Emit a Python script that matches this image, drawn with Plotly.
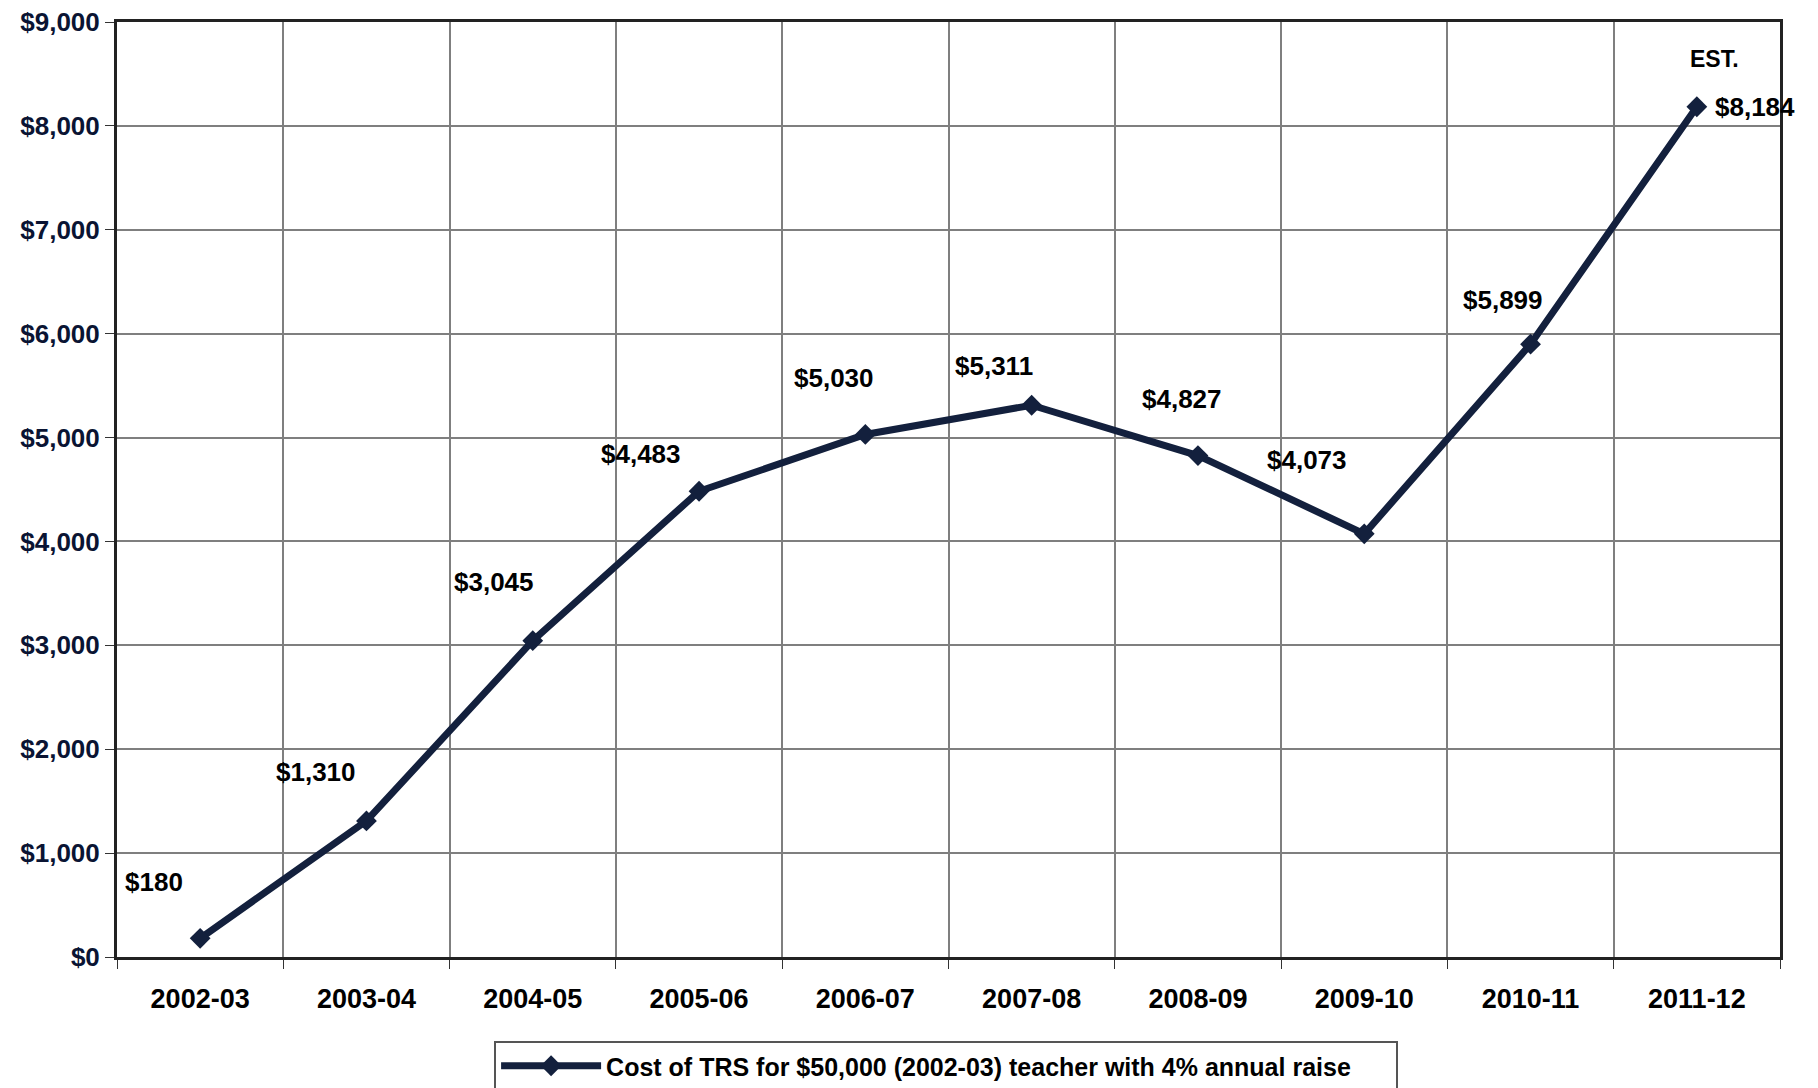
import plotly.graph_objects as go

# chart data
years = ["2002-03", "2003-04", "2004-05", "2005-06", "2006-07",
         "2007-08", "2008-09", "2009-10", "2010-11", "2011-12"]
trs_cost = [180, 1310, 3045, 4483, 5030, 5311, 4827, 4073, 5899, 8184]
y_ticks = [0, 1000, 2000, 3000, 4000, 5000, 6000, 7000, 8000, 9000]
series_name = "Cost of TRS for $50,000 (2002-03) teacher with 4% annual raise"

# label offsets in pixels (dx, dy) relative to each point
label_offsets = [(-46, 56), (-50, 49), (-39, 59), (-58, 37), (-31, 56),
                 (-38, 39), (-16, 57), (-57, 74), (-28, 44), (58, 0)]

navy = "#13203d"
font_main = "Liberation Sans, Arial, sans-serif"

x_pos = list(range(len(years)))

fig = go.Figure()
fig.add_trace(
    go.Scatter(
        x=x_pos,
        y=trs_cost,
        mode="lines+markers",
        name=f"<b>{series_name}</b>",
        line=dict(color=navy, width=7),
        marker=dict(symbol="diamond", size=16, color=navy),
    )
)

# value labels
for xi, v, (dx, dy) in zip(x_pos, trs_cost, label_offsets):
    fig.add_annotation(
        x=xi, y=v, text=f"<b>${v:,}</b>", showarrow=False,
        xshift=dx, yshift=dy,
        font=dict(size=26, color="black", family=font_main),
    )

# estimate marker on last year
fig.add_annotation(
    x=x_pos[-1], y=trs_cost[-1], text="<b>EST.</b>", showarrow=False,
    xshift=18, yshift=48,
    font=dict(size=23, color="black", family=font_main),
)

fig.update_layout(
    width=1818,
    height=1088,
    margin=dict(l=109, r=46, t=14, b=139, autoexpand=False),
    paper_bgcolor="white",
    plot_bgcolor="white",
    font=dict(family=font_main, color="black"),
    showlegend=True,
    legend=dict(
        orientation="h",
        x=0.516, xanchor="center", xref="container",
        y=55 / 1088, yanchor="top", yref="container",
        bordercolor="#555555",
        borderwidth=2,
        font=dict(size=25, color="black", family=font_main),
        entrywidth=785,
        itemwidth=100,
        bgcolor="white",
    ),
)

fig.update_xaxes(
    range=[-0.5, len(years) - 0.5],
    tickvals=x_pos,
    ticktext=[f"<b>{y}</b>" for y in years],
    tickfont=dict(size=27, color="black"),
    showgrid=False,
    ticks="",
    minor=dict(
        tickvals=[i - 0.5 for i in range(len(years) + 1)],
        showgrid=True, gridcolor="#7f7f7f", gridwidth=1.5,
        ticks="outside", ticklen=9, tickcolor="#333333",
    ),
    showline=True, linecolor="#222222", linewidth=3, mirror=True,
    zeroline=False,
    automargin=False,
    ticklabelstandoff=16,
)

fig.update_yaxes(
    range=[0, 9000],
    tickvals=y_ticks,
    ticktext=[f"<b>${t:,}</b>" for t in y_ticks],
    tickfont=dict(size=26, color="#0a1433"),
    ticklabeloverflow="allow",
    showgrid=True, gridcolor="#7f7f7f", gridwidth=1.5,
    ticks="outside", ticklen=9, tickcolor="#333333",
    showline=True, linecolor="#222222", linewidth=3, mirror=True,
    zeroline=False,
    automargin=False,
)

fig.write_html("out.html")
